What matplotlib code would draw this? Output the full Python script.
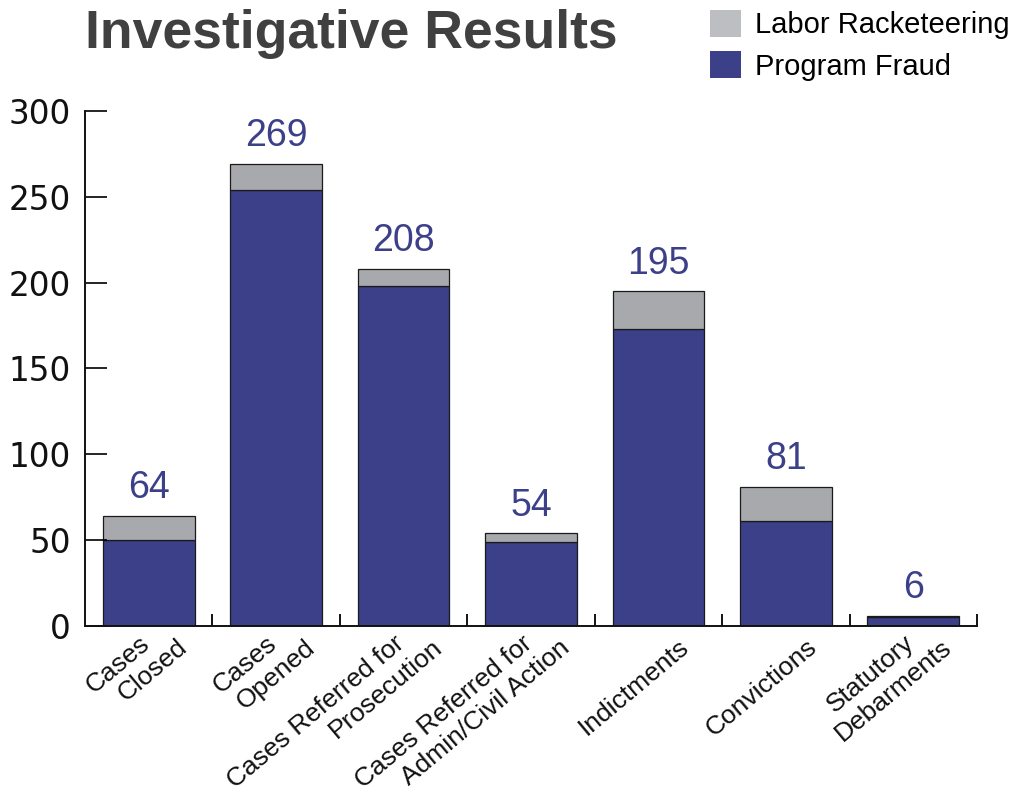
import numpy as np
import matplotlib
matplotlib.use("Agg")
import matplotlib.pyplot as plt
from matplotlib.patches import Patch
from matplotlib.transforms import offset_copy, blended_transform_factory

# data
categories = [
    ["Cases", "Closed"],
    ["Cases", "Opened"],
    ["Cases Referred for", "Prosecution"],
    ["Cases Referred for", "Admin/Civil Action"],
    ["Indictments"],
    ["Convictions"],
    ["Statutory", "Debarments"],
]
program_fraud = [50, 254, 198, 49, 173, 61, 5]
labor_racketeering = [14, 15, 10, 5, 22, 20, 1]
totals = [64, 269, 208, 54, 195, 81, 6]

blue = "#3c4089"
gray = "#a8a9ac"
legend_gray = "#bdbec2"
sans = ["Liberation Sans", "DejaVu Sans"]

fig = plt.figure(figsize=(10.12, 7.99), dpi=100)
ax = fig.add_axes([0.084, 0.2165, 0.8814, 0.6446])

x = np.arange(len(categories))
ax.bar(x, program_fraud, width=0.72, color=blue, edgecolor="#1a1a1a", linewidth=0.9)
ax.bar(x, labor_racketeering, bottom=program_fraud, width=0.72, color=gray,
       edgecolor="#1a1a1a", linewidth=0.9)

for xi, t in zip(x, totals):
    ax.annotate(str(t), (xi, t), xytext=(0, 7), textcoords="offset points",
                ha="center", va="bottom", fontsize=27, color=blue, family=sans)

ax.set_xlim(-0.5, 6.5)
ax.set_ylim(0, 300)
ax.set_yticks(range(0, 301, 50))
ax.tick_params(axis="y", direction="in", length=16, width=1.2, pad=10,
               labelsize=23.5, labelcolor="#111111")
for lab in ax.get_yticklabels():
    lab.set_family("DejaVu Sans")
ax.set_xticks(x)
ax.set_xticklabels([])
ax.tick_params(axis="x", which="major", length=0)
ax.set_xticks(list(x + 0.5), minor=True)
ax.tick_params(axis="x", which="minor", direction="in", length=9, width=1.3)

for side in ["top", "right"]:
    ax.spines[side].set_visible(False)
for side in ["left", "bottom"]:
    ax.spines[side].set_linewidth(1.4)
    ax.spines[side].set_color("#111111")

# rotated category labels, each line placed on its own
ang = 40
base = blended_transform_factory(ax.transData, ax.transAxes)
for xi, lines in zip(x, categories):
    if len(lines) == 1:
        offs = [(20, -9)]
    else:
        offs = [(-10, -5), (28, -9)]
    for line, (dx, dy) in zip(lines, offs):
        tr = offset_copy(base, fig=fig, x=dx, y=dy, units="dots")
        ax.text(xi, 0, line, transform=tr, rotation=ang, rotation_mode="anchor",
                ha="right", va="top", fontsize=19, family=sans, color="#111111")

fig.text(0.084, 0.94, "Investigative Results", fontsize=38.5, fontweight="bold",
         color="#404040", family=sans, va="baseline", ha="left")

handles = [Patch(facecolor=legend_gray, edgecolor="none"),
           Patch(facecolor=blue, edgecolor="none")]
fig.legend(handles, ["Labor Racketeering", "Program Fraud"], loc="upper left",
           bbox_to_anchor=(710 / 1012, 1 - 10 / 799), frameon=False,
           prop={"family": sans, "size": 21}, handlelength=1.05, handleheight=1.05,
           handletextpad=0.5, labelspacing=0.4, borderpad=0, borderaxespad=0)

fig.savefig("out.png", dpi=100)
